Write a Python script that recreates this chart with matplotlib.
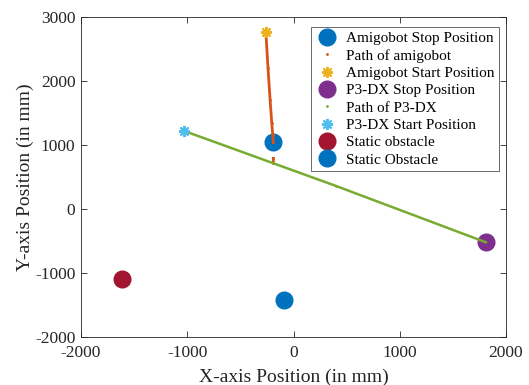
import matplotlib
matplotlib.use("Agg")
import matplotlib.pyplot as plt
import numpy as np

# positions (mm)
amigo_stop = (-190, 1040)
amigo_start = (-260, 2760)
amigo_path_x = [-260, -240, -220, -205, -195, -190, np.nan, -190, -190]
amigo_path_y = [2760, 2200, 1700, 1350, 1150, 1040, np.nan, 790, 720]

p3_stop = (1810, -520)
p3_start = (-1030, 1220)
p3_path_x = [-1030, 400, 1810]
p3_path_y = [1220, 360, -520]

obstacle_red = (-1610, -1090)
obstacle_blue = (-90, -1420)

plt.rcParams["font.family"] = ["Liberation Serif", "DejaVu Serif"]
plt.rcParams["axes.unicode_minus"] = False

fig = plt.figure(figsize=(5.29, 3.85), dpi=100)
ax = fig.add_axes([81 / 529, 1 - 337 / 385, 425 / 529, 320 / 385])

ax.plot(*amigo_stop, "o", color="#0072BD", markersize=12, label="Amigobot Stop Position")
ax.plot(amigo_path_x, amigo_path_y, "-", color="#D95319", lw=2,
        marker=".", markersize=2, label="Path of amigobot")
ax.plot(*amigo_start, marker=(8, 2, 0), ls="none", color="#EDB120", markersize=8,
        mew=1.4, label="Amigobot Start Position")
ax.plot(*p3_stop, "o", color="#7E2F8E", markersize=12, label="P3-DX Stop Position")
ax.plot(p3_path_x, p3_path_y, "-", color="#77AC30", lw=1.8,
        marker=".", markersize=2, markevery=[1], label="Path of P3-DX")
ax.plot(*p3_start, marker=(8, 2, 0), ls="none", color="#4DBEEE", markersize=8,
        mew=1.4, label="P3-DX Start Position")
ax.plot(*obstacle_red, "o", color="#A2142F", markersize=12, label="Static obstacle")
ax.plot(*obstacle_blue, "o", color="#0072BD", markersize=12, label="Static Obstacle")

ax.set_xlim(-2000, 2000)
ax.set_ylim(-2000, 3000)
ax.set_xticks([-2000, -1000, 0, 1000, 2000])
ax.set_yticks([-2000, -1000, 0, 1000, 2000, 3000])
ax.tick_params(direction="in", top=True, right=True, length=4, width=0.6,
               labelsize=12.5, colors="#262626")
ax.tick_params(axis="x", pad=6)
ax.tick_params(axis="y", pad=4)
for s in ax.spines.values():
    s.set_color("#262626")
    s.set_linewidth(0.6)

ax.set_xlabel("X-axis Position (in mm)", fontsize=14, color="#262626", labelpad=5)
ax.set_ylabel("Y-axis Position (in mm)", fontsize=14, color="#262626", labelpad=0.5)

leg = ax.legend(loc="upper right", bbox_to_anchor=(0.984, 0.969), fontsize=11,
                frameon=True, fancybox=False, edgecolor="#262626",
                borderpad=0.3, labelspacing=0.24, handlelength=1.5,
                handletextpad=0.5, borderaxespad=0)
leg.get_frame().set_linewidth(0.6)
for h in leg.legend_handles:
    h.set_linestyle("none")
for h, ms in zip(leg.legend_handles, [12, 2, 8, 12, 2, 8, 12, 12]):
    h.set_markersize(ms)

fig.savefig("out.png", dpi=100)
